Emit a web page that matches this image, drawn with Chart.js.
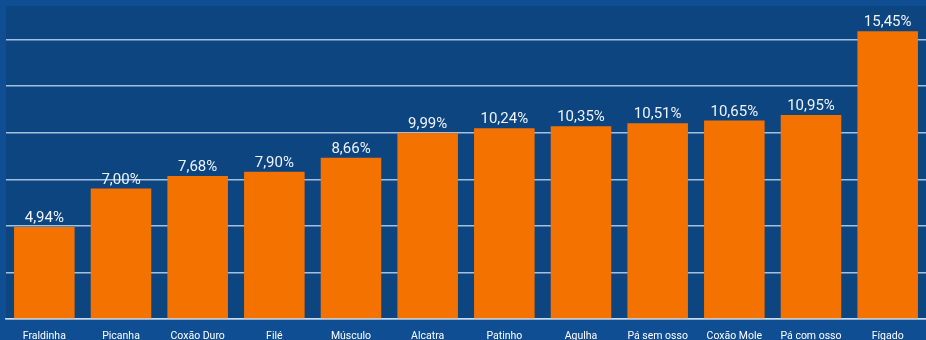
<!DOCTYPE html>
<html>
<head>
<meta charset="utf-8">
<script src="https://cdn.jsdelivr.net/npm/chart.js@4"></script>
<style>
  html, body { margin: 0; padding: 0; background: #104e93; }
  canvas { display: block; }
</style>
</head>
<body>
<canvas id="myChart" width="926" height="340"></canvas>
<script>
// Data
const categories = ['Fraldinha', 'Picanha', 'Coxão Duro', 'Filé', 'Músculo', 'Alcatra', 'Patinho', 'Agulha', 'Pá sem osso', 'Coxão Mole', 'Pá com osso', 'Fígado'];
const values = [4.94, 7.00, 7.68, 7.90, 8.66, 9.99, 10.24, 10.35, 10.51, 10.65, 10.95, 15.45];
const gridTicks = [0, 2.5, 5, 7.5, 10, 12.5, 15];

// darker plot area + value labels
const plotBg = {
  id: 'plotBg',
  beforeDraw(chart) {
    const { ctx, chartArea: a } = chart;
    ctx.save();
    ctx.fillStyle = '#0d4581';
    ctx.fillRect(a.left, a.top, a.right - a.left, a.bottom - a.top);
    ctx.restore();
  }
};

const valueLabels = {
  id: 'valueLabels',
  afterDatasetsDraw(chart) {
    const { ctx } = chart;
    const meta = chart.getDatasetMeta(0);
    ctx.save();
    ctx.fillStyle = '#eef3fa';
    ctx.font = '15px Roboto';
    ctx.textAlign = 'center';
    ctx.textBaseline = 'bottom';
    meta.data.forEach((bar, i) => {
      ctx.fillText(values[i].toFixed(2).replace('.', ',') + '%', bar.x, bar.y - 1);
    });
    ctx.restore();
  }
};

const ctx = document.getElementById('myChart').getContext('2d');
new Chart(ctx, {
  type: 'bar',
  data: {
    labels: categories,
    datasets: [{
      data: values,
      backgroundColor: '#f47200',
      barPercentage: 0.79,
      categoryPercentage: 1.0,
    }]
  },
  options: {
    responsive: false,
    animation: false,
    layout: { padding: { left: 6, top: 6, right: 0, bottom: 0 } },
    plugins: {
      legend: { display: false },
      tooltip: { enabled: false }
    },
    scales: {
      x: {
        grid: { display: false },
        border: { color: '#c9dcf0', width: 1.5 },
        afterFit(axis) { axis.height = 21; },
        ticks: {
          color: '#ffffff',
          font: { family: 'Roboto', size: 10.5 },
          maxRotation: 0,
          autoSkip: false,
          padding: 3
        }
      },
      y: {
        min: 0,
        max: 16.8,
        afterBuildTicks(axis) {
          axis.ticks = gridTicks.map(v => ({ value: v }));
        },
        grid: { color: 'rgba(190, 215, 240, 0.85)', lineWidth: 1.5, drawTicks: false },
        border: { display: false },
        ticks: { display: false }
      }
    }
  },
  plugins: [plotBg, valueLabels]
});
</script>
</body>
</html>
